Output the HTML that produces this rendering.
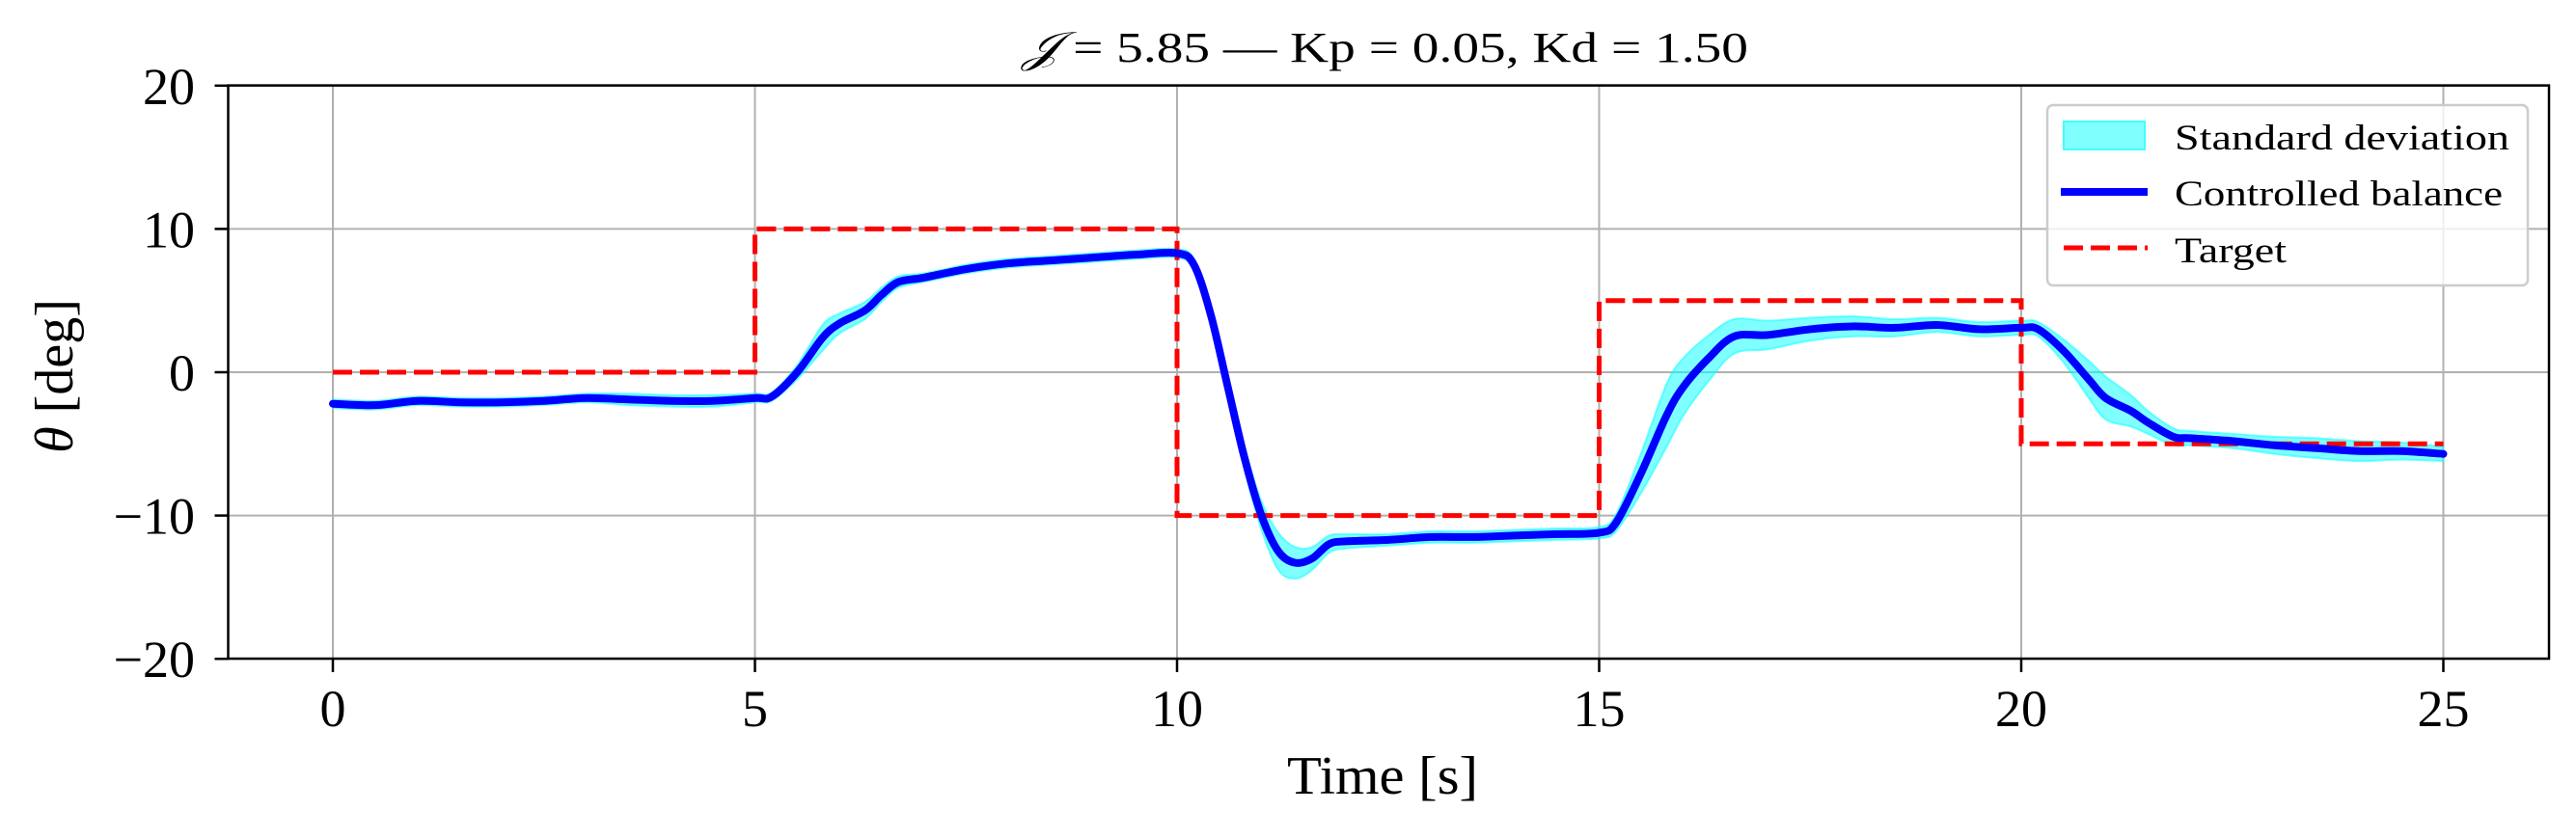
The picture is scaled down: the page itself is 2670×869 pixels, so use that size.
<!DOCTYPE html>
<html><head><meta charset="utf-8"><style>
html,body{margin:0;padding:0;background:#fff;}
svg{display:block;font-family:"Liberation Serif",serif;}
</style></head><body>
<svg id="chart" width="2670" height="869" viewBox="0 0 2670 869" xmlns="http://www.w3.org/2000/svg">
<rect x="0" y="0" width="2670" height="869" fill="#fff"/>
<g id="grid"></g>
<g id="band"></g>
<g id="target"></g>
<g id="mean"></g>
<rect x="236.5" y="88.6" width="2405.5" height="594.4" fill="none" stroke="#000" stroke-width="2.5"/>
<g id="ticks"></g>
<text x="1436" y="64" font-size="44" text-anchor="middle" textLength="752" lengthAdjust="spacingAndGlyphs"><tspan font-style="italic">𝒥</tspan>  = 5.85 — Kp = 0.05, Kd = 1.50</text>
<text x="1433" y="823" font-size="56" text-anchor="middle" textLength="198" lengthAdjust="spacingAndGlyphs">Time [s]</text>
<text transform="translate(75,390) rotate(-90)" font-size="56" text-anchor="middle"><tspan font-style="italic">θ</tspan> [deg]</text>
<g>
<rect x="2122" y="109" width="498" height="187" rx="6" fill="#fff" fill-opacity="0.8" stroke="#ccc" stroke-width="2.5"/>
<rect x="2139" y="126" width="84" height="29" fill="#80ffff" stroke="#40ffff" stroke-width="2"/>
<text x="2254" y="155" font-size="37" textLength="347" lengthAdjust="spacingAndGlyphs">Standard deviation</text>
<line x1="2136" y1="199" x2="2226" y2="199" stroke="#0000ff" stroke-width="8"/>
<text x="2254" y="213" font-size="37" textLength="340" lengthAdjust="spacingAndGlyphs">Controlled balance</text>
<line x1="2139" y1="257" x2="2226" y2="257" stroke="#ff0000" stroke-width="5" stroke-dasharray="20,8"/>
<text x="2254" y="272" font-size="37" textLength="116" lengthAdjust="spacingAndGlyphs">Target</text>
</g>
</svg>
<script>
const timeS = [0,0.5,1,1.5,2,2.5,3,3.5,4,4.5,5,5.2,5.5,5.8,6,6.3,6.5,6.7,7,7.5,8,8.5,9,9.5,10,10.2,10.4,10.6,10.8,11,11.2,11.4,11.6,11.8,12,12.5,13,13.5,14,14.5,15,15.2,15.5,15.8,16,16.3,16.6,17,17.5,18,18.5,19,19.5,20,20.2,20.5,20.8,21,21.3,21.5,21.8,22,22.5,23,23.5,24,24.5,25];
const meanDeg = [-2.2,-2.3,-2.0,-2.1,-2.1,-2.0,-1.8,-1.9,-2.0,-2.0,-1.8,-1.7,0.0,2.4,3.4,4.3,5.4,6.3,6.6,7.2,7.6,7.8,8.0,8.2,8.3,7.5,4.0,-1.0,-6.0,-10.0,-12.5,-13.3,-13.0,-12.0,-11.8,-11.7,-11.5,-11.5,-11.4,-11.3,-11.2,-10.5,-7.0,-3.0,-1.0,1.0,2.5,2.6,3.0,3.2,3.1,3.3,3.0,3.1,3.0,1.5,-0.5,-1.8,-2.7,-3.5,-4.5,-4.6,-4.8,-5.1,-5.3,-5.5,-5.5,-5.7];
const stdDeg = [0.3,0.3,0.3,0.3,0.3,0.3,0.3,0.4,0.4,0.4,0.3,0.3,0.5,0.9,0.7,0.6,0.5,0.4,0.3,0.3,0.3,0.3,0.3,0.3,0.3,0.4,0.5,0.6,0.8,1.0,1.3,1.1,0.8,0.6,0.5,0.4,0.4,0.4,0.4,0.4,0.4,0.6,1.4,2.2,2.0,1.6,1.2,1.0,0.8,0.7,0.6,0.5,0.5,0.5,0.5,0.8,1.3,1.5,1.1,0.8,0.6,0.5,0.5,0.6,0.7,0.7,0.6,0.5];
const targetT = [0,5,5,10,10,15,15,20,20,25];
const targetV = [0,0,10,10,-10,-10,5,5,-5,-5];
const xTicks = [0,5,10,15,20,25];
const yTicks = [-20,-10,0,10,20];
const yTickLabels = ["−20","−10","0","10","20"];

const NS="http://www.w3.org/2000/svg";
const X0=236.5,X1=2642,Y0=88.6,Y1=683;
const xs=t=>345+t*87.5;
const ys=v=>386-v*14.86;
function mk(tag,attrs,parent){const e=document.createElementNS(NS,tag);for(const k in attrs)e.setAttribute(k,attrs[k]);parent.appendChild(e);return e;}
function smooth(pts,start){let d=(start?'M':'L')+pts[0][0]+','+pts[0][1];
  for(let i=0;i<pts.length-1;i++){const p0=pts[Math.max(0,i-1)],p1=pts[i],p2=pts[i+1],p3=pts[Math.min(pts.length-1,i+2)];
    const c1=[p1[0]+(p2[0]-p0[0])/6,p1[1]+(p2[1]-p0[1])/6],c2=[p2[0]-(p3[0]-p1[0])/6,p2[1]-(p3[1]-p1[1])/6];
    d+=' C'+c1+' '+c2+' '+p2[0]+','+p2[1];}
  return d;}
const grid=document.getElementById('grid'),ticks=document.getElementById('ticks');
xTicks.forEach(t=>{
  const g=mk('line',{x1:xs(t),x2:xs(t),y1:Y0,y2:Y1,stroke:'#b0b0b0','stroke-width':2},grid);
  
  
  const tk=mk('line',{x1:xs(t),x2:xs(t),y1:Y1,y2:Y1+14,stroke:'#000','stroke-width':2.5},ticks);
  
  
  const lb=mk('text',{x:xs(t),y:753,'font-size':54,'text-anchor':'middle'},ticks);
  lb.textContent=String(t);
  
  
});
yTicks.forEach((v,i)=>{
  const g=mk('line',{x1:X0,x2:X1,y1:ys(v),y2:ys(v),stroke:'#b0b0b0','stroke-width':2},grid);
  
  
  const tk=mk('line',{x1:X0-14,x2:X0,y1:ys(v),y2:ys(v),stroke:'#000','stroke-width':2.5},ticks);
  
  
  const lb=mk('text',{x:202,y:ys(v)+19,'font-size':54,'text-anchor':'end'},ticks);
  lb.textContent=yTickLabels[i];
  
  
});
const up=timeS.map((t,i)=>[xs(t),ys(meanDeg[i]+stdDeg[i])]);
const dn=timeS.map((t,i)=>[xs(t),ys(meanDeg[i]-stdDeg[i])]).reverse();
const band=mk('path',{d:smooth(up,true)+' '+smooth(dn,false)+' Z',fill:'#00ffff','fill-opacity':0.5,stroke:'#00ffff','stroke-opacity':0.5,'stroke-width':2},document.getElementById('band'));


const tl=mk('polyline',{points:targetT.map((t,i)=>xs(t)+','+ys(targetV[i])).join(' '),fill:'none',stroke:'#ff0000','stroke-width':5,'stroke-dasharray':'20,8'},document.getElementById('target'));


const ml=mk('path',{d:smooth(timeS.map((t,i)=>[xs(t),ys(meanDeg[i])]),true),fill:'none',stroke:'#0000ff','stroke-width':8,'stroke-linejoin':'round','stroke-linecap':'round'},document.getElementById('mean'));


</script>
</body></html>
